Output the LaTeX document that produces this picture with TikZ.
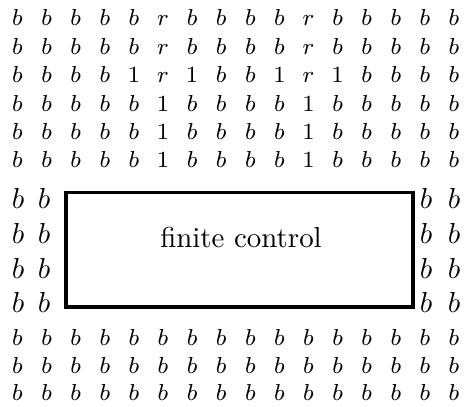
\documentclass[tikz,border=0pt]{standalone}
\begin{document}
\begin{tikzpicture}[x=0.346pt,y=-0.346pt,
  cell/.style={inner sep=0pt,anchor=base,font=\footnotesize},
  bigcell/.style={inner sep=0pt,anchor=base,font=\normalsize},
  fcbox/.style={draw,line width=1.2pt,minimum width=120.1pt,minimum height=39.6pt,inner sep=0pt},
  fclabel/.style={inner sep=0pt,anchor=base,font=\normalsize}]
\useasboundingbox (0,0) rectangle (465,407);
% top tape rows
\foreach \row [count=\r] in {%
  {b,b,b,b,b,r,b,b,b,b,r,b,b,b,b,b},
  {b,b,b,b,b,r,b,b,b,b,r,b,b,b,b,b},
  {b,b,b,b,1,r,1,b,b,1,r,1,b,b,b,b},
  {b,b,b,b,b,1,b,b,b,b,1,b,b,b,b,b},
  {b,b,b,b,b,1,b,b,b,b,1,b,b,b,b,b},
  {b,b,b,b,b,1,b,b,b,b,1,b,b,b,b,b}}{
  \foreach \s [count=\c] in \row {
    \node[cell] (t\r-\c) at ({17.5+29.1*(\c-1)},{26+28.4*(\r-1)}) {$\s$};
  }
}
% bottom rows
\foreach \y [count=\r] in {346,374,401}{
  \foreach \c in {1,...,16}{
    \node[cell] (u\r-\c) at ({17.5+29.1*(\c-1)},\y) {$b$};
  }
}
% middle side cells
\foreach \y [count=\r] in {209,244,279,313}{
  \node[bigcell] (l\r-1) at (18,\y) {$b$};
  \node[bigcell] (l\r-2) at (44,\y) {$b$};
  \node[bigcell] (r\r-1) at (426,\y) {$b$};
  \node[bigcell] (r\r-2) at (454,\y) {$b$};
}
% finite control
\node[fcbox] (fc) at (239.5,250) {};
\node[fclabel] (fcl) at (241,248) {finite control};
\end{tikzpicture}
\end{document}
